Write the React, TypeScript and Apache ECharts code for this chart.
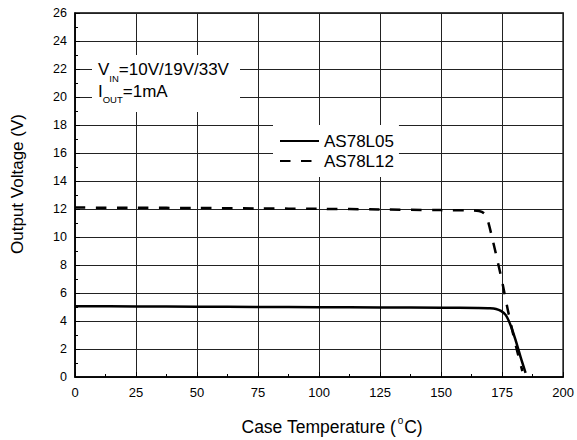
import React, { useEffect, useRef } from "react";
import * as echarts from "echarts";

// ---- data ----
const seriesNames = ["AS78L05", "AS78L12"];
const temps05 = [0, 25, 50, 75, 100, 125, 150, 165, 170, 172.5, 174.5, 176.5, 178.5, 180.6, 182.6, 184.6];
const volts05 = [5.05, 5.04, 5.02, 5.0, 4.99, 4.97, 4.95, 4.93, 4.91, 4.86, 4.72, 4.42, 3.68, 2.58, 1.4, 0.3];
const temps12 = [0, 25, 50, 75, 100, 125, 150, 162, 165.5, 167.7, 169, 171.1, 173.1, 175.2, 177.2, 179.2, 181.3, 183.3];
const volts12 = [12.1, 12.09, 12.07, 12.04, 12.01, 11.97, 11.92, 11.9, 11.86, 11.68, 11.25, 9.8, 8.3, 6.65, 4.9, 3.3, 1.75, 0.42];
const xMin = 0, xMax = 200, xStep = 25;
const yMin = 0, yMax = 26, yStep = 2;

const FONT = "'Liberation Sans', Arial, Helvetica, sans-serif";

export default function App() {
  const ref = useRef<HTMLDivElement>(null);
  useEffect(() => {
    if (!ref.current) return;
    const chart = echarts.init(ref.current, null, { renderer: "svg" });
    const pairs = (xs: number[], ys: number[]) => xs.map((x, i) => [x, ys[i]]);
    chart.setOption({
      animation: false,
      backgroundColor: "#fff",
      grid: {
        left: 75, right: 11, top: 13, bottom: 63,
        show: true, borderColor: "#000", borderWidth: 1.5, backgroundColor: "transparent",
      },
      legend: {
        orient: "vertical",
        left: 273, top: 125,
        padding: [7.5, 5, 7.5, 6],
        itemGap: 3,
        itemWidth: 39, itemHeight: 14,
        backgroundColor: "#fff",
        itemStyle: { opacity: 0 },
        textStyle: { fontFamily: FONT, fontSize: 17, color: "#000" },
        data: seriesNames,
      },
      xAxis: {
        type: "value", min: xMin, max: xMax, interval: xStep,
        axisLine: { lineStyle: { color: "#000", width: 1.5 } },
        axisTick: { inside: true, length: 5, lineStyle: { color: "#000" } },
        minorTick: { show: true, splitNumber: 2, length: 3, lineStyle: { color: "#000" } },
        axisLabel: { color: "#000", fontFamily: FONT, fontSize: 13, margin: 9 },
        splitLine: { show: true, lineStyle: { color: "#222", width: 1 } },
      },
      yAxis: {
        type: "value", min: yMin, max: yMax, interval: yStep,
        axisLine: { lineStyle: { color: "#000", width: 1.5 } },
        axisTick: { inside: true, length: 5, lineStyle: { color: "#000" } },
        minorTick: { show: true, splitNumber: 2, length: 3, lineStyle: { color: "#000" } },
        axisLabel: { color: "#000", fontFamily: FONT, fontSize: 12.5, margin: 8 },
        splitLine: { show: true, lineStyle: { color: "#222", width: 1 } },
      },
      series: [
        {
          name: seriesNames[0], type: "line", data: pairs(temps05, volts05),
          symbol: "none", smooth: 0.3, color: "#000",
          lineStyle: { color: "#000", width: 2.5, type: "solid" },
        },
        {
          name: seriesNames[1], type: "line", data: pairs(temps12, volts12),
          symbol: "none", smooth: 0.3, color: "#000",
          lineStyle: { color: "#000", width: 2.5, type: [10.5, 10.5] },
        },
      ],
      graphic: [
        { type: "rect", z: 10, shape: { x: 92, y: 55, width: 148, height: 57 }, style: { fill: "#fff" } },
        {
          type: "text", z: 11, x: 98, y: 61.35,
          style: {
            text: "{m|V}{s|IN}{m|=10V/19V/33V}\n{m|I}{s|OUT}{m|=1mA}",
            align: "left", verticalAlign: "top", fill: "#000",
            rich: {
              m: { fontFamily: FONT, fontSize: 17, lineHeight: 21.5, verticalAlign: "top", fill: "#000" },
              s: { fontFamily: FONT, fontSize: 9.5, lineHeight: 9.5, padding: [12, 0, 0, 0], verticalAlign: "top", fill: "#000" },
            },
          },
        },
        {
          type: "text", z: 11, x: 241.5, y: 415,
          style: {
            text: "{m|Case Temperature (}{s|o}{m|C)}",
            align: "left", verticalAlign: "top", fill: "#000",
            rich: {
              m: { fontFamily: FONT, fontSize: 17.5, lineHeight: 18, padding: [3, 0, 0, 0], verticalAlign: "top", fill: "#000" },
              s: { fontFamily: FONT, fontSize: 10, lineHeight: 10, padding: [0, 1, 0, 1.5], verticalAlign: "top", fill: "#000" },
            },
          },
        },
        {
          type: "text", z: 11, x: 17.6, y: 184, rotation: Math.PI / 2,
          style: {
            text: "Output Voltage (V)", fontFamily: FONT, fontSize: 17,
            align: "center", verticalAlign: "middle", fill: "#000",
          },
        },
      ],
    });
    return () => chart.dispose();
  }, []);
  return <div ref={ref} style={{ position: "fixed", left: 0, top: 0, width: 577, height: 440 }} />;
}
